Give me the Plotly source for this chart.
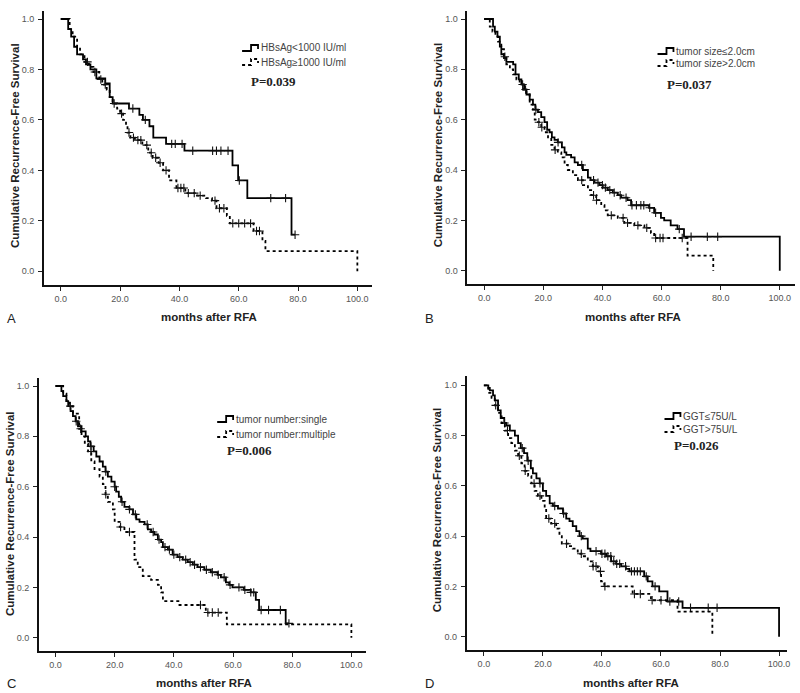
import plotly.graph_objects as go

# ---------------- data: months after RFA / survival after each step ----------------
# A: HBsAg
a_low_t = [0, 2.5, 3.5, 4.5, 5.5, 7.5, 8.5, 10, 12, 15, 16.5, 17.5, 23, 26.5, 27.7, 29.9,
           31.2, 35.5, 41.7, 57.9, 59.8, 62.9, 77.8, 79]
a_low_s = [1.0, 0.96, 0.93, 0.89, 0.86, 0.84, 0.82, 0.80, 0.765, 0.745, 0.69, 0.665, 0.645,
           0.62, 0.60, 0.575, 0.53, 0.505, 0.478, 0.42, 0.36, 0.29, 0.145, 0.145]
a_low_cens = [24.3, 28.5, 37.4, 38.6, 40.9, 44.5, 51.2, 52.5, 54, 56.4, 60.2, 70.8, 75.8, 79]
a_high_t = [0, 3, 4, 5.5, 6.5, 8, 9.5, 11, 13, 14, 15.5, 16.5, 17.5, 19, 20, 21, 22, 22.5,
            23.5, 25, 27.5, 29.5, 31, 33, 34.5, 36.5, 39, 42, 46, 49, 51, 52.5, 56, 57,
            65, 68, 69, 100]
a_high_s = [1.0, 0.96, 0.93, 0.89, 0.86, 0.83, 0.81, 0.79, 0.76, 0.74, 0.72, 0.69, 0.665,
            0.645, 0.625, 0.60, 0.58, 0.55, 0.53, 0.52, 0.50, 0.47, 0.45, 0.43, 0.40, 0.36,
            0.33, 0.31, 0.30, 0.29, 0.28, 0.25, 0.22, 0.19, 0.16, 0.12, 0.08, 0.0]
a_high_cens = [9, 11.5, 13.5, 15, 18, 20.5, 23, 24.5, 26, 27, 29, 30.5, 32, 33.5, 35.5, 39.5,
               40.5, 41.5, 43, 45, 47, 52, 53.5, 55, 58, 60, 62, 64, 66, 67]

# B: tumor size
b_small_t = [0, 3.0, 3.6, 4.5, 5.3, 5.8, 6.7, 7.5, 9.8, 10.6, 11.7, 12.6, 13.5, 14.3, 15.4,
             16.5, 17.3, 18.2, 19.3, 20.4, 21.3, 22.1, 22.9, 23.8, 24.9, 26.3, 27.2, 27.8,
             29.4, 30.6, 31.7, 33.4, 35.1, 36.0, 37.3, 39.0, 40.1, 41.8, 43.5, 45.2, 46.3,
             48.5, 49.7, 55.8, 57.5, 59.8, 60.9, 63.1, 65.4, 67.6, 100]
b_small_s = [1.0, 0.97, 0.95, 0.93, 0.89, 0.86, 0.845, 0.83, 0.82, 0.78, 0.76, 0.74, 0.72,
             0.70, 0.68, 0.66, 0.64, 0.63, 0.61, 0.59, 0.56, 0.55, 0.53, 0.52, 0.51, 0.49,
             0.47, 0.46, 0.45, 0.43, 0.42, 0.40, 0.37, 0.36, 0.35, 0.34, 0.33, 0.32, 0.31,
             0.30, 0.29, 0.28, 0.26, 0.25, 0.23, 0.21, 0.20, 0.18, 0.165, 0.135, 0.0]
b_small_cens = [17.5, 25, 33, 37, 38.5, 40, 41, 42.5, 44, 46, 48, 50, 51.5, 53, 54, 56, 58,
                66, 70, 75.5, 79]
b_large_t = [0, 1.9, 2.8, 3.8, 4.7, 5.8, 6.7, 7.5, 8.7, 9.8, 10.9, 12.0, 13.1, 14.3, 15.4,
             16.5, 17.1, 18.2, 19.3, 20.4, 21.6, 22.7, 23.8, 24.9, 26.1, 27.2, 28.3, 30.0,
             31.7, 33.4, 35.1, 36.2, 37.9, 39.6, 40.7, 41.8, 45.2, 47.4, 50.8, 54.2, 56.4,
             57.5, 68.8, 77.5]
b_large_s = [1.0, 0.97, 0.95, 0.93, 0.91, 0.88, 0.85, 0.82, 0.80, 0.78, 0.76, 0.74, 0.72,
             0.70, 0.66, 0.64, 0.60, 0.59, 0.57, 0.55, 0.53, 0.50, 0.48, 0.47, 0.45, 0.42,
             0.40, 0.38, 0.36, 0.34, 0.32, 0.30, 0.28, 0.26, 0.24, 0.22, 0.21, 0.19, 0.18,
             0.17, 0.15, 0.13, 0.06, 0.0]
b_large_cens = [7, 13, 14, 18.5, 19.5, 24, 33, 37, 38, 43, 47, 48.5, 52, 55, 58, 59.5, 60.5, 67]

# C: tumor number
c_single_t = [0, 2.0, 2.6, 3.7, 4.3, 5.1, 5.9, 6.8, 7.6, 8.8, 10.2, 11.0, 11.8, 12.9, 13.8,
              14.9, 16.0, 16.9, 17.7, 18.9, 20.0, 20.5, 21.4, 22.2, 23.3, 25.0, 26.2, 27.3,
              28.4, 30.1, 31.2, 32.3, 33.4, 34.6, 35.7, 36.3, 38.0, 39.6, 41.3, 43.0, 44.7,
              46.4, 48.0, 50.3, 52.5, 54.8, 55.9, 57.6, 58.7, 59.8, 63.7, 66.0, 67.7, 68.8,
              77.8, 78.9]
c_single_s = [1.0, 0.98, 0.96, 0.94, 0.92, 0.90, 0.88, 0.86, 0.84, 0.82, 0.80, 0.78, 0.76,
              0.74, 0.72, 0.70, 0.68, 0.66, 0.64, 0.62, 0.60, 0.58, 0.56, 0.54, 0.52, 0.51,
              0.49, 0.47, 0.46, 0.45, 0.43, 0.42, 0.41, 0.39, 0.38, 0.36, 0.35, 0.33, 0.32,
              0.31, 0.30, 0.29, 0.28, 0.27, 0.26, 0.25, 0.24, 0.22, 0.21, 0.20, 0.19, 0.18,
              0.15, 0.11, 0.057, 0.057]
c_single_cens = [5, 7, 12, 17, 20, 22.5, 25, 27, 31, 33, 35, 37, 38.5, 40, 42, 44, 45.5, 47,
                 49, 51, 53, 55, 57, 59, 62, 64, 66, 67, 69.5, 72, 76, 78.9]
c_multi_t = [0, 2.6, 3.7, 4.8, 5.9, 8.0, 8.8, 9.9, 11.0, 12.1, 13.2, 14.9, 16.0, 16.9, 17.7,
             19.4, 20.0, 21.7, 23.3, 26.7, 27.8, 29.5, 32.3, 34.6, 35.7, 36.3, 41.9, 50.8,
             57.9, 100]
c_multi_s = [1.0, 0.97, 0.94, 0.92, 0.89, 0.83, 0.80, 0.77, 0.74, 0.70, 0.67, 0.64, 0.61,
             0.57, 0.54, 0.51, 0.46, 0.44, 0.42, 0.31, 0.28, 0.245, 0.23, 0.21, 0.18, 0.145,
             0.13, 0.10, 0.053, 0.0]
c_multi_cens = [8.5, 12, 17, 22, 25, 49, 51.5, 53, 55]

# D: GGT
d_low_t = [0, 1.5, 2.0, 3.1, 3.7, 4.8, 5.7, 6.9, 7.6, 8.8, 10.5, 11.6, 12.5, 13.6, 14.7, 15.9,
           16.6, 17.8, 18.9, 20.0, 21.1, 22.3, 23.4, 25.1, 26.8, 27.9, 29.0, 30.1, 31.3,
           32.4, 33.5, 35.2, 36.1, 39.7, 41.4, 43.1, 44.8, 46.5, 48.1, 49.3, 54.3, 55.5,
           57.1, 59.4, 62.2, 67.3, 68.4, 100]
d_low_s = [1.0, 0.99, 0.98, 0.96, 0.94, 0.90, 0.87, 0.85, 0.84, 0.82, 0.80, 0.77, 0.75, 0.73,
           0.70, 0.67, 0.65, 0.63, 0.61, 0.58, 0.56, 0.53, 0.52, 0.51, 0.49, 0.47, 0.46,
           0.44, 0.42, 0.40, 0.39, 0.35, 0.34, 0.33, 0.32, 0.30, 0.29, 0.28, 0.27, 0.26,
           0.24, 0.22, 0.20, 0.18, 0.14, 0.115, 0.115, 0.0]
d_low_cens = [7, 13, 15, 19, 24, 27, 33, 38, 40, 41, 42, 43, 44, 45, 46, 48, 50, 51, 52, 53,
              55, 58, 63, 66, 70, 76, 79]
d_high_t = [0, 0.9, 1.5, 2.6, 3.7, 4.8, 6.0, 7.1, 8.2, 9.3, 10.5, 11.6, 12.7, 13.8, 15.0,
            16.1, 17.2, 18.3, 19.5, 20.6, 21.1, 22.8, 24.5, 25.6, 26.4, 28.5, 30.1, 31.8,
            33.5, 35.2, 36.9, 38.6, 39.7, 40.8, 50.4, 56.6, 65.6, 77.4]
d_high_s = [1.0, 0.99, 0.97, 0.95, 0.92, 0.89, 0.85, 0.82, 0.79, 0.77, 0.74, 0.72, 0.69,
            0.66, 0.64, 0.61, 0.58, 0.56, 0.54, 0.51, 0.47, 0.45, 0.43, 0.40, 0.37, 0.36,
            0.35, 0.33, 0.32, 0.30, 0.28, 0.26, 0.22, 0.20, 0.17, 0.145, 0.10, 0.0]
d_high_cens = [4, 8, 12, 14, 17, 19, 22, 24, 28, 33, 37, 38, 39.5, 41, 51, 53, 57, 60]

x_ticks = [0, 20, 40, 60, 80, 100]
y_ticks = [0.0, 0.2, 0.4, 0.6, 0.8, 1.0]

legend_a = ["HBsAg<1000 IU/ml", "HBsAg≥1000 IU/ml"]
legend_b = ["tumor size≤2.0cm", "tumor size>2.0cm"]
legend_c = ["tumor number:single", "tumor number:multiple"]
legend_d = ["GGT≤75U/L", "GGT>75U/L"]
p_values = ["P=0.039", "P=0.037", "P=0.006", "P=0.026"]
panel_letters = ["A", "B", "C", "D"]

W, H = 800, 693


def px(x):
    return x / W


def py(y):
    return 1 - y / H


def surv_at(ts, ss, t):
    val = ss[0]
    for ti, si in zip(ts, ss):
        if ti <= t:
            val = si
    return val


# pixel anchors per panel: x0, x100, y1, y0, axis left, right, top, bottom
panels = [
    dict(anc=(61, 358.7, 19, 271.3, 44, 373, 11, 285),
         curves=[(a_low_t, a_low_s, a_low_cens), (a_high_t, a_high_s, a_high_cens)],
         legend=legend_a, leg=(243, 48, 62), p=(250, 82),
         ytitle=(15, 145), xtitle=(210, 317), letter=(5, 318)),
    dict(anc=(486, 782.7, 19, 270.7, 469, 798, 11, 284),
         curves=[(b_small_t, b_small_s, b_small_cens), (b_large_t, b_large_s, b_large_cens)],
         legend=legend_b, leg=(660, 51, 63), p=(668, 84),
         ytitle=(440, 145), xtitle=(635, 317), letter=(425, 318)),
    dict(anc=(55.7, 352.7, 386, 637.7, 39, 367, 378, 651),
         curves=[(c_single_t, c_single_s, c_single_cens), (c_multi_t, c_multi_s, c_multi_cens)],
         legend=legend_c, leg=(218, 419, 434), p=(226, 450),
         ytitle=(10, 513), xtitle=(205, 683), letter=(5, 683)),
    dict(anc=(485.7, 782, 385.3, 636.7, 468.3, 790, 376, 650),
         curves=[(d_low_t, d_low_s, d_low_cens), (d_high_t, d_high_s, d_high_cens)],
         legend=legend_d, leg=(667, 416, 429), p=(675, 445),
         ytitle=(439, 510), xtitle=(633, 683), letter=(425, 683)),
]

fig = go.Figure()
layout = {}
annotations = []
shapes = []
sans = "Liberation Sans, Arial, sans-serif"

for i, pn in enumerate(panels):
    n = "" if i == 0 else str(i + 1)
    x0, x100, y1, y0, left, right, top, bottom = pn["anc"]
    sx = (x100 - x0) / 100
    sy = y0 - y1
    xr = [(left - x0) / sx, (right - x0) / sx]
    yr = [(y0 - bottom) / sy, (y0 - top) / sy]

    for j, (ts, ss, cens) in enumerate(pn["curves"]):
        dash = "solid" if j == 0 else "dot"
        fig.add_trace(go.Scatter(
            x=ts, y=ss, mode="lines", line=dict(color="black", width=1.8, dash=dash, shape="hv"),
            xaxis="x" + n, yaxis="y" + n, showlegend=False, hoverinfo="skip"))
        fig.add_trace(go.Scatter(
            x=cens, y=[surv_at(ts, ss, c) for c in cens], mode="markers",
            marker=dict(symbol="cross-thin", size=6, line=dict(color="#111", width=1.1)),
            xaxis="x" + n, yaxis="y" + n, showlegend=False, hoverinfo="skip"))

    axis_common = dict(showline=True, linecolor="#111", linewidth=1.5, showgrid=False,
                       zeroline=False, ticks="outside", ticklen=4, tickcolor="#222",
                       tickwidth=1.3,
                       tickfont=dict(family=sans, size=9, color="#555"), tickformat=".1f")
    layout["xaxis" + n] = dict(axis_common, domain=[px(left), px(right)], range=xr,
                               tickvals=x_ticks, anchor="y" + n)
    layout["yaxis" + n] = dict(axis_common, domain=[py(bottom), py(top)], range=yr,
                               tickvals=y_ticks, anchor="x" + n, ticklabelstandoff=2)

    # legend sample lines + labels
    lx, ly1, ly2 = pn["leg"]
    for j, ly in enumerate([ly1, ly2]):
        path = "M {} {} L {} {} L {} {} L {} {} L {} {}".format(
            px(lx), py(ly + 3), px(lx + 9), py(ly + 3), px(lx + 9), py(ly - 3),
            px(lx + 16), py(ly - 3), px(lx + 16), py(ly + 1))
        shapes.append(dict(type="path", path=path, xref="paper", yref="paper",
                           line=dict(color="black", width=1.8,
                                     dash="solid" if j == 0 else "dot")))
        annotations.append(dict(x=px(lx + 17), y=py(ly), xref="paper", yref="paper",
                                text=pn["legend"][j], showarrow=False, xanchor="left",
                                yanchor="middle",
                                font=dict(family=sans, size=10, color="#444")))
    annotations.append(dict(x=px(pn["p"][0]), y=py(pn["p"][1]), xref="paper", yref="paper",
                            text="<b>" + p_values[i] + "</b>", showarrow=False,
                            xanchor="left", yanchor="middle",
                            font=dict(family="Liberation Serif, Times New Roman, serif",
                                      size=13, color="#222")))
    annotations.append(dict(x=px(pn["ytitle"][0]), y=py(pn["ytitle"][1]), xref="paper",
                            yref="paper", text="<b>Cumulative Recurrence-Free Survival</b>",
                            textangle=-90, showarrow=False, xanchor="center",
                            yanchor="middle", font=dict(family=sans, size=11.5, color="#222")))
    annotations.append(dict(x=px(pn["xtitle"][0]), y=py(pn["xtitle"][1]), xref="paper",
                            yref="paper", text="<b>months after RFA</b>", showarrow=False,
                            xanchor="center", yanchor="middle",
                            font=dict(family=sans, size=11.5, color="#222")))
    annotations.append(dict(x=px(pn["letter"][0]), y=py(pn["letter"][1]), xref="paper",
                            yref="paper", text=panel_letters[i], showarrow=False,
                            xanchor="left", yanchor="middle",
                            font=dict(family=sans, size=13, color="#222")))

fig.update_layout(
    width=W, height=H, margin=dict(l=0, r=0, t=0, b=0),
    plot_bgcolor="white", paper_bgcolor="white",
    annotations=annotations, shapes=shapes, **layout)

# page has a default 8px body margin; drop it so the figure fills the window exactly
fig.write_html("out.html", config={"displayModeBar": False},
               post_script="document.body.style.margin='0px';")
